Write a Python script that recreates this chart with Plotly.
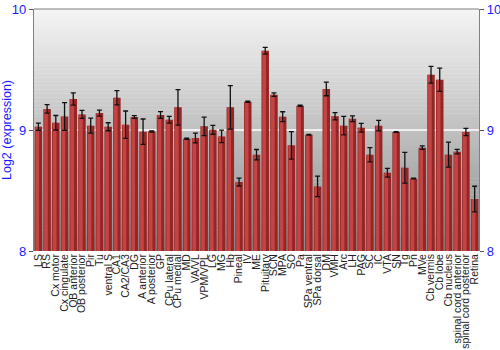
import plotly.graph_objects as go

categories = ["LS", "RS", "Cx motor", "Cx cingulate", "OB anterior", "OB posterior", "Pir", "Tu",
              "ventral S", "CA1", "CA2/CA3", "DG", "A anterior", "A posterior", "GP", "CPu lateral",
              "CPu medial", "MD", "VA/VL", "VPM/VPL", "LG", "MG", "Hb", "Pineal", "IV", "ME",
              "Pituitary", "SCN", "MPA", "SO", "Pa", "SPa ventral", "SPa dorsal", "DM", "VMH", "Arc",
              "LH", "PAG", "SC", "IC", "VTA", "SN", "Tg", "Pn", "MVe", "Cb vermis", "Cb lobe",
              "Cb nucleus", "spinal cord anterior", "spinal cord posterior", "Retina"]

values = [9.027, 9.174, 9.06, 9.112, 9.256, 9.129, 9.036, 9.14,
          9.027, 9.267, 9.044, 9.107, 8.986, 8.988, 9.124, 9.085,
          9.187, 8.928, 8.934, 9.03, 9.002, 8.947, 9.187, 8.57, 9.234, 8.796,
          9.655, 9.292, 9.11, 8.873, 9.201, 8.961, 8.534, 9.339, 9.113, 9.036,
          9.093, 9.019, 8.796, 9.036, 8.647, 8.983, 8.688, 8.6, 8.854, 9.457, 9.416,
          8.796, 8.821, 8.983, 8.429]

errors = [0.03, 0.035, 0.06, 0.115, 0.05, 0.033, 0.062, 0.025,
          0.033, 0.059, 0.113, 0.011, 0.105, 0.005, 0.028, 0.028,
          0.146, 0.005, 0.041, 0.076, 0.037, 0.052, 0.179, 0.033, 0.005, 0.043,
          0.028, 0.014, 0.041, 0.114, 0.005, 0.003, 0.084, 0.056, 0.03, 0.076,
          0.023, 0.036, 0.059, 0.043, 0.036, 0.003, 0.127, 0.003, 0.014, 0.069, 0.096,
          0.103, 0.019, 0.03, 0.106]

y_ticks = [8, 9, 10]
y_range = [8, 10]
blue = "#1a1aff"

fig = go.Figure()

# base (dark) bars
fig.add_trace(go.Bar(x=categories, y=values, width=0.86,
                     marker=dict(color="#962626", line=dict(width=0)),
                     hoverinfo="skip"))
# highlight bars
fig.add_trace(go.Bar(x=categories, y=values, width=0.42, offset=-0.34,
                     marker=dict(color="#c44444", line=dict(width=0)),
                     hoverinfo="skip"))
# error bars
fig.add_trace(go.Scatter(x=categories, y=values, mode="markers",
                         marker=dict(size=1, opacity=0),
                         error_y=dict(type="data", array=errors, visible=True,
                                      color="#111111", thickness=1.3, width=2.5),
                         hoverinfo="skip"))
# invisible trace for the right axis
fig.add_trace(go.Scatter(x=categories, y=values, mode="markers", yaxis="y2",
                         marker=dict(size=1, opacity=0), hoverinfo="skip"))

# gradient background
n = 60
shapes = []
top = (244, 244, 244)
bot = (140, 140, 140)
for i in range(n):
    t = i / (n - 1)
    c = tuple(int(round(top[k] + (bot[k] - top[k]) * t)) for k in range(3))
    shapes.append(dict(type="rect", xref="paper", yref="paper", x0=0, x1=1,
                       y0=1 - (i + 1) / n, y1=1 - i / n + 0.001, layer="below",
                       fillcolor="rgb(%d,%d,%d)" % c, line=dict(width=0)))
# white grid line at 9
shapes.append(dict(type="line", xref="paper", yref="y", x0=0, x1=1, y0=9, y1=9,
                   layer="below", line=dict(color="white", width=1.5)))
# top border
shapes.append(dict(type="line", xref="paper", yref="paper", x0=0, x1=1, y0=1, y1=1,
                   line=dict(color="#808080", width=1.2)))

fig.update_layout(
    width=500, height=350,
    margin=dict(l=34, r=21, t=9, b=99),
    paper_bgcolor="white", plot_bgcolor="rgba(0,0,0,0)",
    barmode="overlay", bargap=0.14,
    showlegend=False,
    shapes=shapes,
    font=dict(family="Liberation Sans, Arial, sans-serif"),
    xaxis=dict(tickangle=-90, tickfont=dict(size=10.5, color="#222222"),
               tickmode="array", tickvals=categories, ticktext=categories,
               showgrid=False, ticks="", showline=False, automargin=False,
               range=[-0.5, len(categories) - 0.5]),
    yaxis=dict(range=y_range, tickvals=y_ticks, ticktext=[str(v) for v in y_ticks],
               tickfont=dict(size=13, color=blue), showgrid=False, zeroline=False,
               ticks="outside", ticklen=4, tickcolor="#555555",
               showline=True, linecolor="#808080", linewidth=1.2,
               title=dict(text="Log2 (expression)", font=dict(size=12.5, color=blue), standoff=3),
               automargin=False),
    yaxis2=dict(range=y_range, tickvals=y_ticks, ticktext=[str(v) for v in y_ticks],
                overlaying="y", side="right",
                tickfont=dict(size=13, color=blue), showgrid=False, zeroline=False,
                ticks="outside", ticklen=4, tickcolor="#555555",
                showline=True, linecolor="#808080", linewidth=1.2, automargin=False),
)

fig.write_html("out.html")
